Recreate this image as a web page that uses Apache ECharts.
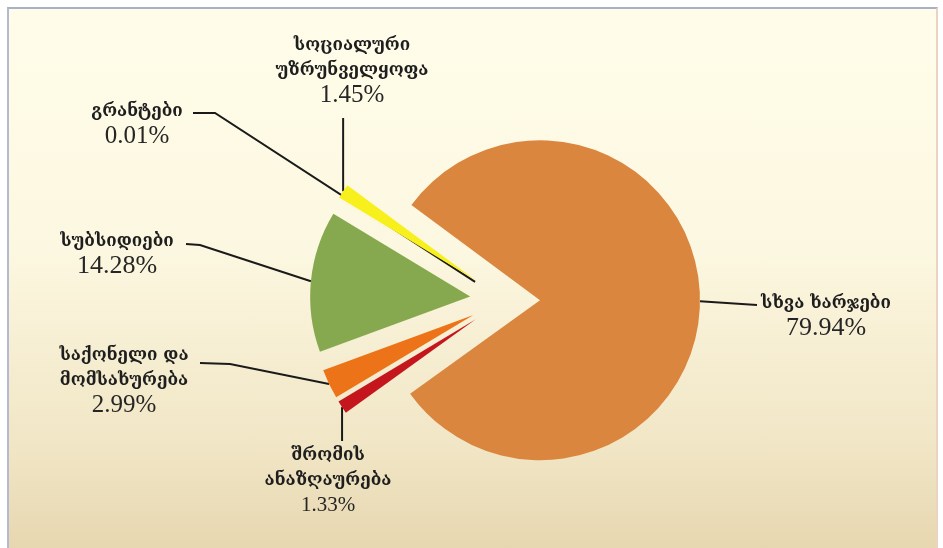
<!DOCTYPE html>
<html>
<head>
<meta charset="utf-8">
<script src="https://cdn.jsdelivr.net/npm/echarts@6/dist/echarts.min.js"></script>
<style>
  html, body { margin: 0; padding: 0; background: #ffffff; }
  #bg { position: absolute; left: 7px; top: 7px; width: 927px; height: 541px;
        border-top: 2px solid #A9B1C9; border-left: 2px solid #B3B9D0; border-right: 2px solid #EBD3C4;
        background: linear-gradient(to bottom, #FFFDEA 0%, #FCF7E0 45%, #F1E6C6 80%, #E7D7B0 100%); }
  #chart { position: absolute; left: 0; top: 0; width: 943px; height: 548px; }
</style>
</head>
<body>
<div id="bg"></div>
<div id="chart"></div>
<script>
// ---- data ----
var categories = [
  'სხვა ხარჯები',
  'შრომის\nანაზღაურება',
  'საქონელი და\nმომსახურება',
  'სუბსიდიები',
  'გრანტები',
  'სოციალური\nუზრუნველყოფა'
];
var shares = [79.94, 1.33, 2.99, 14.28, 0.01, 1.45];

// ---- styles / layout (not data) ----
var colors = ['#DA863F', '#C4161C', '#EC7317', '#86A84E', '#6F6F6F', '#F7F01C'];
var CX = 505, CY = 300, R = 160, OFFSET = 35, START = 143.5;
// label text block: [centre x, top y]
var labelAnchor = [[826, 291], [328, 443], [124, 343], [117, 229], [137, 99], [352, 33]];
// leader line bend / end points (null x = same x as start)
var lineEnd = [[[757, 305]], [[null, 441]], [[230, 364], [200, 363]], [[200, 245], [186, 244]], [[215, 113], [193, 113]], [[null, 118]]];
// fraction of radius at which the leader line starts
var lineStartFrac = [1, 1, 1, 1, 0, 1];
var numSize = [26, 21, 25, 26, 25, 25];

var total = shares.reduce(function (a, b) { return a + b; }, 0);
function midAngle(i) {
  var cum = 0;
  for (var k = 0; k < i; k++) cum += shares[k];
  return (START - (cum + shares[i] / 2) / total * 360) * Math.PI / 180;
}
function sliceCenter(i) {
  var m = midAngle(i);
  return [CX + OFFSET * Math.cos(m), CY - OFFSET * Math.sin(m)];
}
function startPoint(i) {
  var m = midAngle(i), c = sliceCenter(i), f = lineStartFrac[i];
  return [c[0] + f * R * Math.cos(m), c[1] - f * R * Math.sin(m)];
}

var series = categories.map(function (cat, i) {
  return {
    type: 'pie',
    name: cat,
    center: sliceCenter(i),
    radius: R,
    startAngle: START,
    clockwise: true,
    avoidLabelOverlap: false,
    silent: true,
    emphasis: { disabled: true },
    label: {
      show: false,
      position: 'outside',
      align: 'center',
      formatter: function (p) { return '{n|' + p.name.split('\n').join('}\n{n|') + '}\n{v|' + p.value.toFixed(2) + '%}'; },
      rich: {
        n: { fontFamily: '"DejaVu Serif", serif', fontSize: 17, fontWeight: 'bold', lineHeight: 25, color: '#1e1e1e', align: 'center' },
        v: { fontFamily: '"Liberation Serif", "Times New Roman", serif', fontSize: numSize[i], lineHeight: 24, color: '#262626', align: 'center' }
      }
    },
    labelLine: { show: false, lineStyle: { color: '#1a1a1a', width: 2 } },
    labelLayout: function (p) {
      if (p.dataIndex !== i) return {};
      var s = startPoint(i);
      var pts = [s];
      lineEnd[i].forEach(function (q) { pts.push([q[0] == null ? s[0] : q[0], q[1]]); });
      return {
        x: labelAnchor[i][0], y: labelAnchor[i][1],
        align: 'center', verticalAlign: 'top',
        labelLinePoints: pts
      };
    },
    data: categories.map(function (c, k) {
      var on = k === i;
      return {
        name: c, value: shares[k],
        itemStyle: { color: on ? colors[k] : 'rgba(0,0,0,0)', borderWidth: 0 },
        label: { show: on },
        labelLine: { show: on }
      };
    })
  };
});

var chart = echarts.init(document.getElementById('chart'), null, { renderer: 'canvas' });
chart.setOption({ animation: false, backgroundColor: 'transparent', series: series });
</script>
</body>
</html>
